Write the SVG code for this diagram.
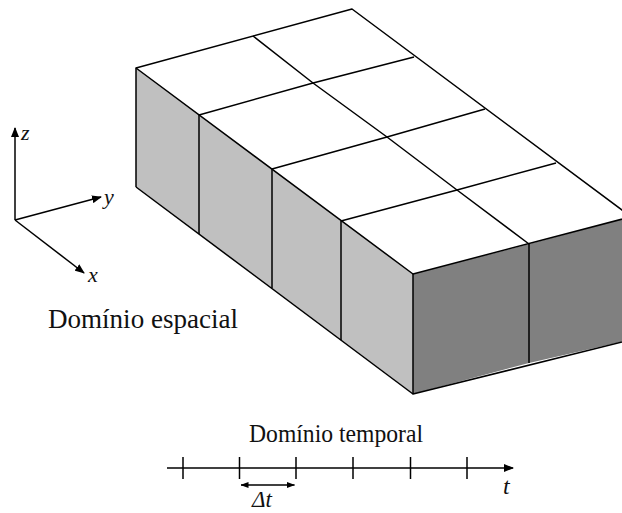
<svg xmlns="http://www.w3.org/2000/svg" width="622" height="513" viewBox="0 0 622 513">
<style>
.e{stroke:#000;stroke-width:1.5;fill:none;stroke-linejoin:round}
.side{fill:#c0c0c0}
.front{fill:#808080}
.top{fill:#fff}
.ax{stroke:#000;stroke-width:1.5;fill:none}
</style>
<defs>
<marker id="ah" markerWidth="10" markerHeight="8" refX="9" refY="4" orient="auto" markerUnits="userSpaceOnUse">
<path d="M0,0 L10,4 L0,8 Z" fill="#000"/>
</marker>
<marker id="ahs" markerWidth="8" markerHeight="6" refX="7.5" refY="3" orient="auto-start-reverse" markerUnits="userSpaceOnUse">
<path d="M0,0 L8,3 L0,6 Z" fill="#000"/>
</marker>
</defs>
<rect width="622" height="513" fill="#fff"/>

<g id="block">
<polygon class="top" points="136,68 352,9 630,216 413,274"/>
<polygon class="side" points="136,68 413,274 413,394 136,187"/>
<polygon class="front" points="413,274 529,244 630,217 630,340 529,363 413,394"/>
<polyline class="e" points="136,187 136,68 352,9 630,216"/>
<polyline class="e" points="136,68 413,274 630,217"/>
<polyline class="e" points="413,274 413,394 630,340"/>
<line class="e" x1="136" y1="187" x2="413" y2="394"/>
<polyline class="e" points="253,36 313,83 387,137 457,190 529,244"/>
<polyline class="e" points="199,115 313,83 414,57"/>
<polyline class="e" points="272,169 387,137 485,109"/>
<polyline class="e" points="341,221 457,190 556,163"/>
<line class="e" x1="199" y1="115" x2="199" y2="234"/>
<line class="e" x1="272" y1="169" x2="272" y2="288"/>
<line class="e" x1="341" y1="221" x2="341" y2="340"/>
<line class="e" x1="529" y1="244" x2="529" y2="363"/>
</g>

<g id="axes" font-family="Liberation Serif, DejaVu Serif, serif" font-style="italic" fill="#111">
<line class="ax" x1="15" y1="220" x2="15" y2="128" marker-end="url(#ah)"/>
<line class="ax" x1="15" y1="220" x2="101" y2="197" marker-end="url(#ah)"/>
<line class="ax" x1="15" y1="220" x2="84" y2="273" marker-end="url(#ah)"/>
<text x="21" y="140" font-size="22">z</text>
<text x="104" y="204" font-size="22">y</text>
<text x="88" y="282" font-size="22">x</text>
</g>

<text id="espacial" font-family="Liberation Serif, DejaVu Serif, serif" fill="#111" x="48" y="328" font-size="26.5" textLength="190" lengthAdjust="spacingAndGlyphs">Domínio espacial</text>
<text id="temporal" font-family="Liberation Serif, DejaVu Serif, serif" fill="#111" x="249" y="442" font-size="25" textLength="174" lengthAdjust="spacingAndGlyphs">Domínio temporal</text>

<g id="timeline">
<line class="ax" x1="167" y1="468" x2="513" y2="468" marker-end="url(#ah)"/>
<g class="ax">
<line x1="183" y1="457" x2="183" y2="479"/>
<line x1="239.5" y1="457" x2="239.5" y2="479"/>
<line x1="296" y1="457" x2="296" y2="479"/>
<line x1="353" y1="457" x2="353" y2="479"/>
<line x1="410.5" y1="457" x2="410.5" y2="479"/>
<line x1="467" y1="457" x2="467" y2="479"/>
</g>
<line x1="241" y1="485" x2="294.5" y2="485" stroke="#000" stroke-width="1.3" marker-start="url(#ahs)" marker-end="url(#ahs)"/>
<text font-family="Liberation Serif, DejaVu Serif, serif" font-style="italic" fill="#111" x="252" y="507" font-size="23">Δt</text>
<text font-family="Liberation Serif, DejaVu Serif, serif" font-style="italic" fill="#111" x="503" y="494" font-size="24">t</text>
</g>
</svg>
